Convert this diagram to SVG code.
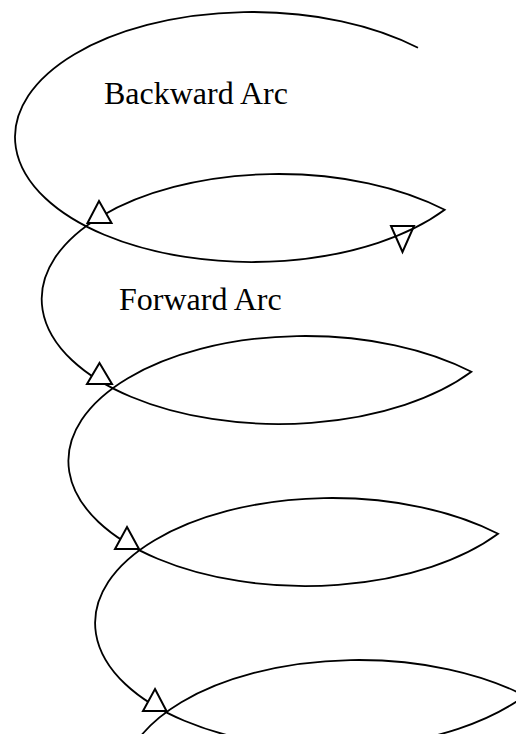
<svg xmlns="http://www.w3.org/2000/svg" width="516" height="734" viewBox="0 0 516 734">
<style>
.arc{fill:none;stroke:#000;stroke-width:1.8}
.tri{fill:#fff;stroke:#000;stroke-width:2}
.tri-open{fill:none;stroke:#000;stroke-width:2}
.lbl{font-family:"Liberation Serif","Times New Roman",serif;font-size:32px;fill:#000}
</style>
<rect width="516" height="734" fill="#fff"/>
<g id="inverted-arrow">
<polygon class="tri-open" points="391,226 414,226 402.5,252"/>
</g>
<g id="connectors">
<path class="arc" d="M 417.99 47.78 A 237 125 0 1 0 444.69 209.78 A 237 125 0 1 0 471.39 371.78 A 237 125 0 1 0 498.09 533.78 A 237 125 0 1 0 524.79 695.78 A 237 125 0 1 0 551.49 857.78"/>
</g>
<g id="arrow1"><polygon class="tri" points="99,201 111.5,223 87.5,223"/></g>
<g id="arrow2"><polygon class="tri" points="99.5,363 112,384 87,384"/></g>
<g id="arrow3"><polygon class="tri" points="127,527 139,549 115,549"/></g>
<g id="arrow4"><polygon class="tri" points="155,689 166.5,711 143,711"/></g>
<g id="backward-label"><text class="lbl" x="104" y="104">Backward Arc</text></g>
<g id="forward-label"><text class="lbl" x="119" y="310">Forward Arc</text></g>
</svg>
